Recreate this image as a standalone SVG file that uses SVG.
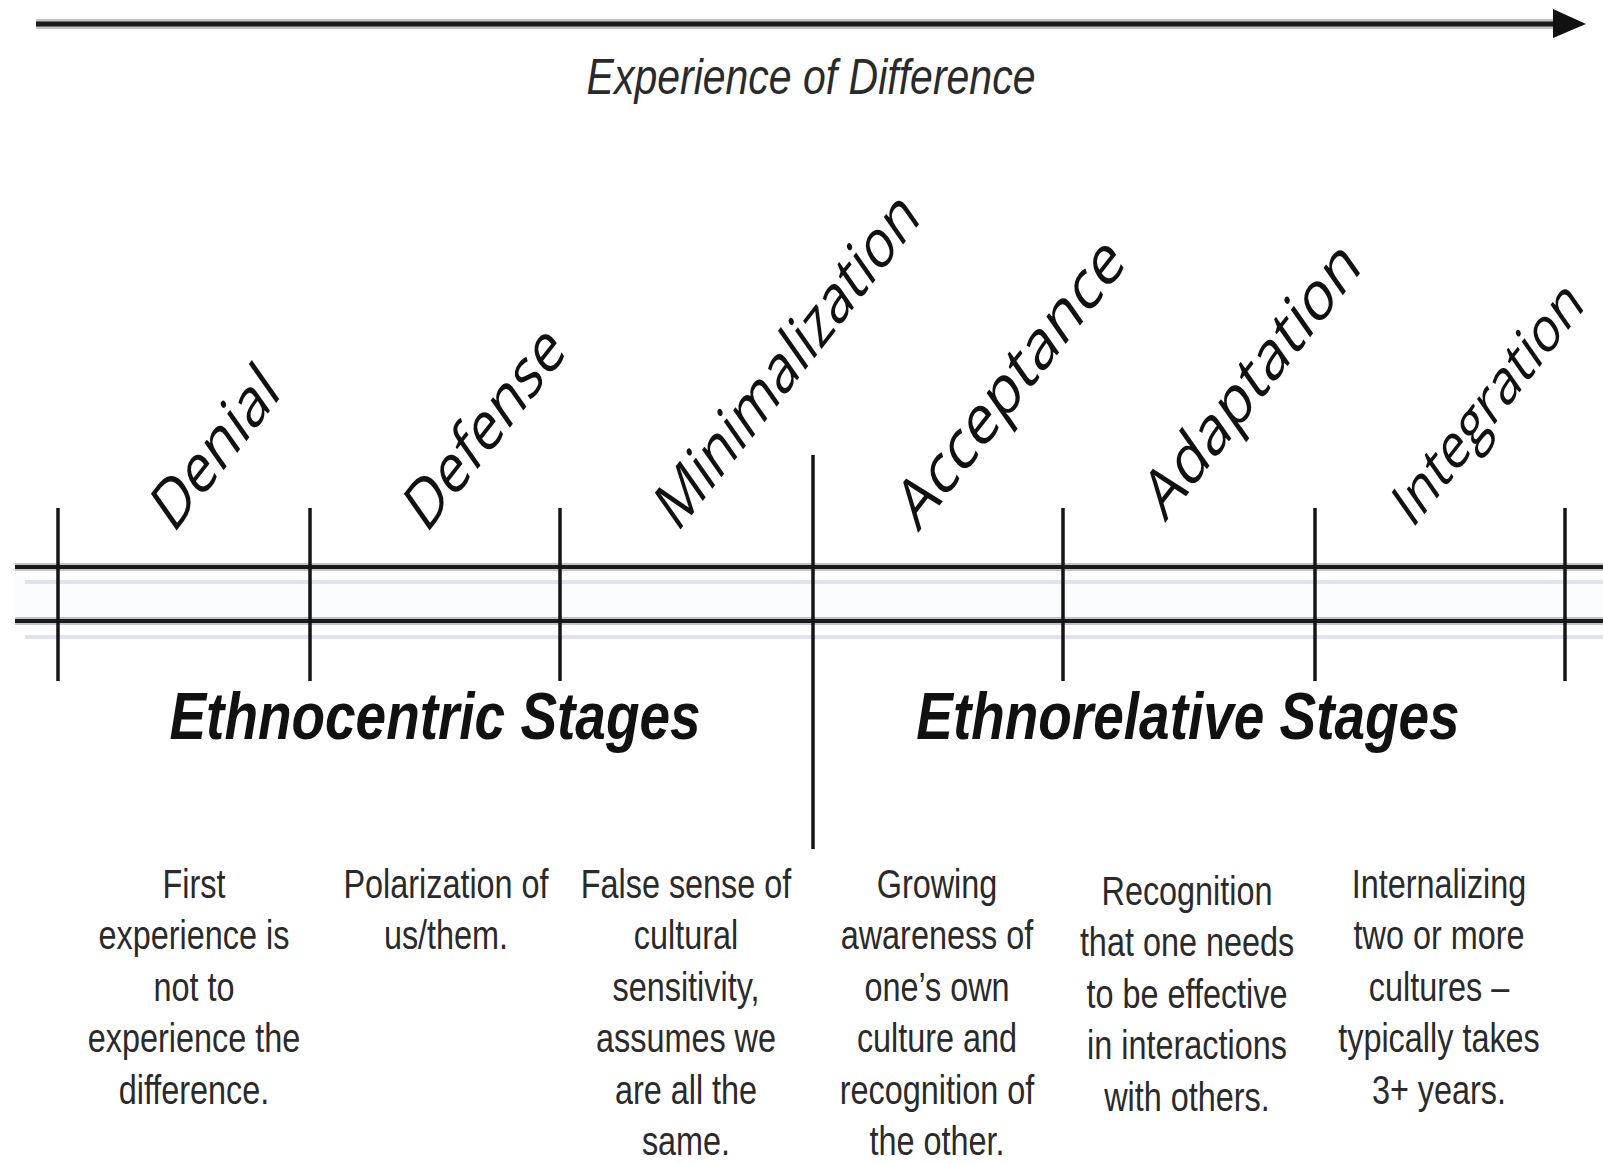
<svg xmlns="http://www.w3.org/2000/svg" width="1603" height="1164" viewBox="0 0 1603 1164">
<style>
.stage{font-family:"Open Sans","DejaVu Sans",sans-serif;font-size:60px;fill:#111}
.desc{font-family:"Liberation Sans",Arial,sans-serif;font-size:40px;fill:#2a2a2a;text-anchor:middle}
.title{font-family:"Liberation Sans",Arial,sans-serif;font-size:67px;font-weight:bold;font-style:italic;fill:#111;text-anchor:middle}
.axis{font-family:"Liberation Sans",Arial,sans-serif;font-size:50px;font-style:italic;fill:#2a2a2a;text-anchor:middle}
.halo{stroke:#c4c4c4;fill:none}
.dark{stroke:#1b1b1b;fill:none}
.pale{stroke:#dfe4ec;fill:none}
.tick{stroke:#151515;stroke-width:3.5}
</style>
<rect width="1603" height="1164" fill="#fff"/>

<g id="axis-arrow">
  <line class="halo" x1="36" y1="24" x2="1556" y2="24" stroke-width="10"/>
  <line class="dark" x1="36" y1="24" x2="1556" y2="24" stroke-width="5"/>
  <polygon points="1553,9 1586,24 1553,38" fill="#111"/>
  <g transform="translate(811,94) scale(0.82,1)"><text class="axis" x="0" y="0">Experience of Difference</text></g>
</g>

<g id="connectors">
  <rect x="15" y="567" width="1588" height="54" fill="#fbfcfd"/>
  <line class="pale" x1="25" y1="582" x2="1603" y2="582" stroke-width="4"/>
  <line class="pale" x1="25" y1="637" x2="1603" y2="637" stroke-width="4"/>
  <line class="halo" x1="15" y1="567" x2="1603" y2="567" stroke-width="8"/>
  <line class="halo" x1="15" y1="621" x2="1603" y2="621" stroke-width="8"/>
  <line class="dark" x1="15" y1="567" x2="1603" y2="567" stroke-width="4"/>
  <line class="dark" x1="15" y1="621" x2="1603" y2="621" stroke-width="4"/>
  <g class="ticks">
    <line class="tick" x1="58" y1="508" x2="58" y2="681"/>
    <line class="tick" x1="310" y1="508" x2="310" y2="681"/>
    <line class="tick" x1="560" y1="508" x2="560" y2="681"/>
    <line class="tick" x1="813" y1="455" x2="813" y2="849"/>
    <line class="tick" x1="1063" y1="508" x2="1063" y2="681"/>
    <line class="tick" x1="1315" y1="508" x2="1315" y2="681"/>
    <line class="tick" x1="1565" y1="508" x2="1565" y2="681"/>
  </g>
</g>

<g id="stage-denial">
  <g transform="translate(173,535) rotate(-52) skewX(-17)"><text class="stage">Denial</text></g>
  <g transform="translate(194,0) scale(0.81,1)">
    <text class="desc" y="898">First</text>
    <text class="desc" y="949.5">experience is</text>
    <text class="desc" y="1001">not to</text>
    <text class="desc" y="1052.5">experience the</text>
    <text class="desc" y="1104">difference.</text>
  </g>
</g>

<g id="stage-defense">
  <g transform="translate(426,535) rotate(-52) skewX(-17)"><text class="stage">Defense</text></g>
  <g transform="translate(446,0) scale(0.81,1)">
    <text class="desc" y="898">Polarization of</text>
    <text class="desc" y="949.5">us/them.</text>
  </g>
</g>

<g id="stage-minimalization">
  <g transform="translate(677,534) rotate(-52) skewX(-17)"><text class="stage" textLength="398" lengthAdjust="spacingAndGlyphs">Minimalization</text></g>
  <g transform="translate(686,0) scale(0.81,1)">
    <text class="desc" y="898">False sense of</text>
    <text class="desc" y="949.5">cultural</text>
    <text class="desc" y="1001">sensitivity,</text>
    <text class="desc" y="1052.5">assumes we</text>
    <text class="desc" y="1104">are all the</text>
    <text class="desc" y="1155.5">same.</text>
  </g>
</g>

<g id="stage-acceptance">
  <g transform="translate(918,533) rotate(-52) skewX(-17)"><text class="stage" textLength="340" lengthAdjust="spacingAndGlyphs">Acceptance</text></g>
  <g transform="translate(937,0) scale(0.81,1)">
    <text class="desc" y="898">Growing</text>
    <text class="desc" y="949.5">awareness of</text>
    <text class="desc" y="1001">one’s own</text>
    <text class="desc" y="1052.5">culture and</text>
    <text class="desc" y="1104">recognition of</text>
    <text class="desc" y="1155.5">the other.</text>
  </g>
</g>

<g id="stage-adaptation">
  <g transform="translate(1165,523) rotate(-52) skewX(-17)"><text class="stage" textLength="322" lengthAdjust="spacingAndGlyphs">Adaptation</text></g>
  <g transform="translate(1187,0) scale(0.81,1)">
    <text class="desc" y="905">Recognition</text>
    <text class="desc" y="956.5">that one needs</text>
    <text class="desc" y="1008">to be effective</text>
    <text class="desc" y="1059.5">in interactions</text>
    <text class="desc" y="1111">with others.</text>
  </g>
</g>

<g id="stage-integration">
  <g transform="translate(1412,530) rotate(-52) skewX(-17)"><text class="stage" style="font-size:55px">Integration</text></g>
  <g transform="translate(1439,0) scale(0.81,1)">
    <text class="desc" y="898">Internalizing</text>
    <text class="desc" y="949.5">two or more</text>
    <text class="desc" y="1001">cultures –</text>
    <text class="desc" y="1052.5">typically takes</text>
    <text class="desc" y="1104">3+ years.</text>
  </g>
</g>

<g id="group-labels">
  <g transform="translate(435,739) scale(0.82,1)"><text class="title">Ethnocentric Stages</text></g>
  <g transform="translate(1188,739) scale(0.82,1)"><text class="title">Ethnorelative Stages</text></g>
</g>
</svg>
